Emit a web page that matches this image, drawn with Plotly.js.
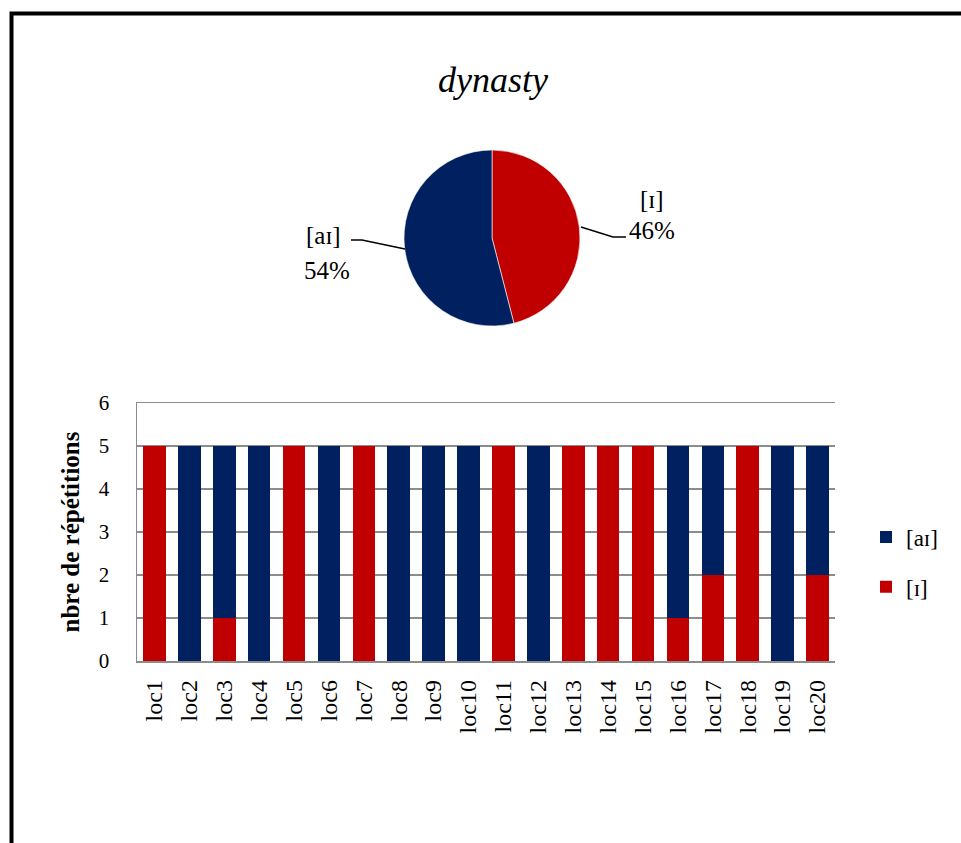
<!DOCTYPE html>
<html>
<head>
<meta charset="utf-8">
<script src="https://cdn.plot.ly/plotly-3.0.1.min.js"></script>
<style>html,body{margin:0;padding:0;background:#fff;}#chart{width:961px;height:843px;}</style>
</head>
<body>
<div id="chart"></div>
<script>
// ---- data ----
const chartTitle = "dynasty";
const seriesNames = ["[ɪ]", "[aɪ]"];
const pieValues = [46, 54];
const locations = ["loc1","loc2","loc3","loc4","loc5","loc6","loc7","loc8","loc9","loc10",
                   "loc11","loc12","loc13","loc14","loc15","loc16","loc17","loc18","loc19","loc20"];
const valuesI  = [5,0,1,0,5,0,5,0,0,0,5,0,5,5,5,1,2,5,0,2];
const valuesAI = [0,5,4,5,0,5,0,5,5,5,0,5,0,0,0,4,3,0,5,3];
const yTitle = "nbre de répétitions";
const colors = ["#C00000", "#002060"];

// ---- helpers (pixel -> paper) ----
const W = 961, H = 843;
const px = x => x / W;
const py = y => 1 - y / H;
const FONT = "Liberation Serif, Times New Roman, serif";

const total = pieValues.reduce((a, b) => a + b, 0);
const pct = pieValues.map(v => Math.round(v / total * 100) + "%");

const traces = [
  {
    type: "pie",
    labels: seriesNames,
    values: pieValues,
    sort: false,
    direction: "clockwise",
    rotation: 0,
    textinfo: "none",
    hoverinfo: "label+percent",
    showlegend: false,
    marker: { colors: colors, line: { color: "#ffffff", width: 0.6 } },
    domain: { x: [px(404), px(580)], y: [py(326), py(150)] }
  },
  {
    type: "bar", name: seriesNames[0], x: locations, y: valuesI,
    marker: { color: colors[0] }, legendgroup: "g1", legendrank: 2,
    xaxis: "x", yaxis: "y"
  },
  {
    type: "bar", name: seriesNames[1], x: locations, y: valuesAI,
    marker: { color: colors[1] }, legendgroup: "g2", legendrank: 1,
    xaxis: "x", yaxis: "y"
  }
];

const labelFont = { family: FONT, size: 25, color: "#000" };

const layout = {
  width: W, height: H,
  margin: { l: 0, r: 0, t: 0, b: 0 },
  paper_bgcolor: "#fff", plot_bgcolor: "rgba(0,0,0,0)",
  font: { family: FONT, color: "#000" },
  title: {
    text: "<i>" + chartTitle + "</i>",
    font: { family: FONT, size: 36, color: "#000" },
    x: px(493), xanchor: "center", xref: "paper",
    y: py(79), yanchor: "middle", yref: "paper"
  },
  barmode: "stack",
  bargap: 0.35,
  xaxis: {
    domain: [px(137), px(835)],
    anchor: "y",
    type: "category",
    tickangle: -90,
    tickfont: { family: FONT, size: 24, color: "#000" },
    ticks: "",
    ticklabelstandoff: 8,
    showline: true, mirror: true, linecolor: "#8c8c8c", linewidth: 1.5,
    showgrid: false, zeroline: false,
    fixedrange: true
  },
  yaxis: {
    domain: [py(661), py(403)],
    anchor: "x",
    range: [0, 6],
    dtick: 1,
    tickfont: { family: FONT, size: 21, color: "#000" },
    ticks: "",
    ticklabelstandoff: 22,
    showline: true, linecolor: "#8c8c8c", linewidth: 1.5,
    showgrid: true, gridcolor: "#8c8c8c", gridwidth: 1.3,
    zeroline: false,
    title: { text: "<b>" + yTitle + "</b>", font: { family: FONT, size: 25, color: "#000" }, standoff: 12 },
    fixedrange: true
  },
  legend: {
    x: px(866), xanchor: "left",
    y: py(562), yanchor: "middle",
    traceorder: "grouped",
    tracegroupgap: 17,
    font: { family: FONT, size: 23, color: "#000" },
    bgcolor: "rgba(0,0,0,0)"
  },
  annotations: [
    { text: seriesNames[0], x: px(652), y: py(199), xref: "paper", yref: "paper", xanchor: "center", yanchor: "middle", showarrow: false, font: labelFont },
    { text: pct[0], x: px(652), y: py(230), xref: "paper", yref: "paper", xanchor: "center", yanchor: "middle", showarrow: false, font: labelFont },
    { text: seriesNames[1], x: px(323), y: py(235), xref: "paper", yref: "paper", xanchor: "center", yanchor: "middle", showarrow: false, font: labelFont },
    { text: pct[1], x: px(327), y: py(270), xref: "paper", yref: "paper", xanchor: "center", yanchor: "middle", showarrow: false, font: labelFont }
  ],
  shapes: [
    // leader lines
    { type: "path", xref: "paper", yref: "paper",
      path: `M ${px(581)} ${py(227)} L ${px(613)} ${py(237)} L ${px(626)} ${py(237)}`,
      line: { color: "#000", width: 1.5 } },
    { type: "path", xref: "paper", yref: "paper",
      path: `M ${px(351)} ${py(240)} L ${px(362)} ${py(240)} L ${px(405)} ${py(249)}`,
      line: { color: "#000", width: 1.5 } },
    // outer frame
    { type: "rect", xref: "paper", yref: "paper",
      x0: px(11.5), x1: 1.05, y0: -0.05, y1: py(13.5),
      line: { color: "#000", width: 4 }, fillcolor: "rgba(0,0,0,0)" }
  ]
};

Plotly.newPlot("chart", traces, layout, { displayModeBar: false, staticPlot: true });
</script>
</body>
</html>
